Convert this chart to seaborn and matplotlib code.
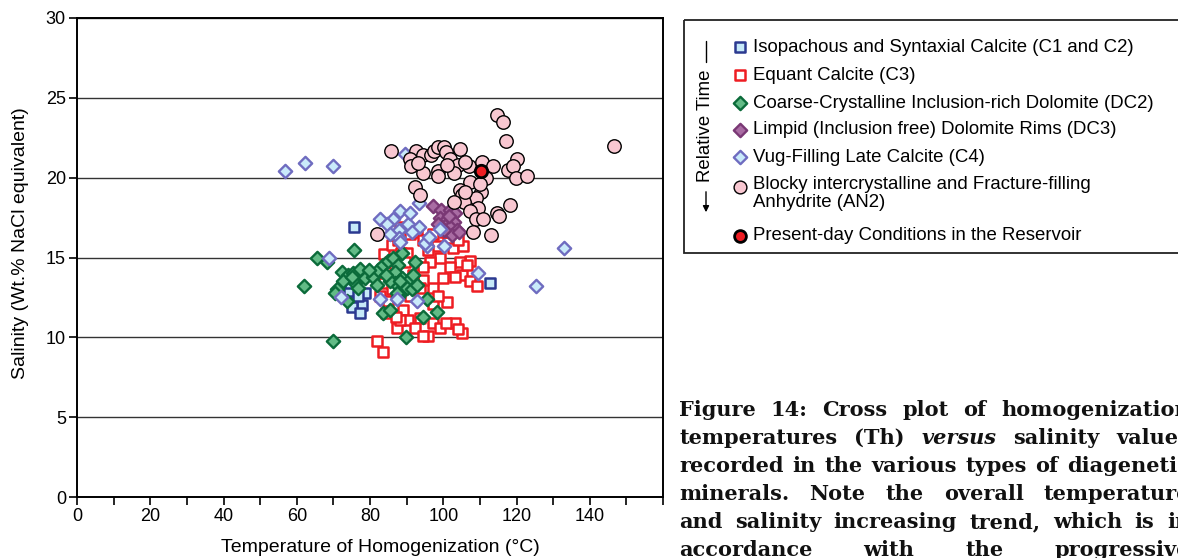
import matplotlib
matplotlib.use("Agg")
import matplotlib.pyplot as plt
import numpy as np
import pandas as pd
import seaborn as sns
from matplotlib.patches import Rectangle

# ---- Fluid-inclusion data: homogenization temperature (°C) and salinity (wt.% NaCl eq.) ----
c1c2_temp = [75.7, 112.8, 78.7, 76.1, 77.8, 75.0, 77.3, 74.3, 76.6, 74.6]
c1c2_sal = [16.9, 13.4, 12.8, 12.3, 12.0, 11.9, 11.5, 12.9, 12.6, 13.4]

c3_temp = [83.9, 85.5, 83.9, 82.8, 85.0, 84.4, 82.0, 83.6, 86.1, 88.5, 90.2, 88.3, 91.0, 92.9,
           94.5, 97.3, 98.4, 101.4, 102.7, 105.5, 107.4, 104.6, 101.9, 99.2, 96.4, 94.5, 105.2,
           107.4, 109.3, 103.3, 100.0, 97.3, 94.5, 93.7, 101.1, 97.3, 98.6, 89.1, 90.4, 93.7,
           97.3, 99.2, 103.3, 105.2, 95.9, 92.3, 87.4, 88.3, 87.2, 100.8, 104.1, 94.5, 86.1,
           91.0, 88.3, 86.9, 91.8, 89.6, 87.7, 95.9, 100.5, 104.1, 106.6]
c3_sal = [15.2, 14.7, 13.4, 12.6, 12.3, 11.5, 9.8, 9.1, 15.8, 15.3, 15.3, 16.9, 16.5, 16.6,
          16.1, 16.5, 15.7, 16.0, 15.6, 15.7, 14.8, 14.7, 14.4, 15.0, 14.7, 14.4, 13.9,
          13.5, 13.2, 13.8, 13.7, 13.1, 13.6, 13.1, 12.2, 12.1, 12.6, 11.7, 11.1, 11.2,
          10.9, 10.6, 10.9, 10.3, 10.1, 10.6, 10.6, 11.1, 11.3, 10.9, 10.5, 10.1, 13.0,
          12.6, 13.3, 14.2, 13.9, 14.7, 16.1, 15.5, 16.6, 16.1, 14.5]

dc2_temp = [65.6, 68.3, 75.7, 62.0, 69.9, 89.9, 94.5, 98.4, 71.0, 72.4, 74.0, 75.4, 77.3, 76.0,
            78.7, 80.9, 82.2, 83.6, 85.0, 86.3, 88.8, 87.7, 86.9, 88.8, 90.4, 86.9, 89.6, 87.7,
            83.6, 85.5, 76.8, 82.0, 92.3, 91.8, 90.2, 72.7, 70.5, 87.4, 85.5, 91.5, 95.6, 92.9,
            75.1, 88.3, 79.8, 84.4, 73.7]
dc2_sal = [15.0, 14.7, 15.5, 13.2, 9.8, 10.0, 11.3, 11.6, 13.0, 14.1, 13.9, 14.0, 14.3, 13.4,
           13.7, 13.8, 14.2, 14.5, 14.8, 15.0, 15.3, 14.5, 14.1, 13.7, 13.5, 13.4, 13.0, 12.5,
           11.5, 11.7, 13.1, 13.3, 14.7, 13.9, 13.1, 13.5, 12.8, 12.8, 13.5, 13.0, 12.4, 13.3,
           13.8, 13.5, 14.2, 13.9, 12.3]

dc3_temp = [97.3, 99.5, 101.9, 103.3, 99.2, 101.0, 102.8, 100.5, 101.9, 103.7, 102.4, 100.1,
            104.2, 98.5, 101.5]
dc3_sal = [18.2, 18.0, 18.0, 17.8, 17.5, 17.4, 17.2, 17.0, 16.9, 16.7, 16.4, 16.7, 16.6, 17.1,
           17.6]

c4_temp = [56.8, 62.3, 69.8, 89.6, 93.5, 88.3, 82.8, 86.4, 84.6, 87.8, 90.5, 93.3, 91.4, 87.8,
           99.2, 95.5, 100.1, 88.3, 95.1, 109.6, 87.3, 92.8, 82.6, 68.9, 72.2, 132.9, 125.2,
           91.0, 96.2, 85.5]
c4_sal = [20.4, 20.9, 20.7, 21.5, 18.4, 17.9, 17.4, 17.4, 17.1, 16.7, 17.1, 16.9, 16.6, 16.2,
          16.8, 15.7, 15.7, 16.0, 15.9, 14.0, 12.4, 12.3, 12.4, 15.0, 12.5, 15.6, 13.2, 17.8,
          16.3, 16.5]

an2_temp = [114.7, 116.3, 117.2, 85.7, 92.5, 90.8, 91.2, 94.5, 96.6, 97.5, 98.7, 100.3, 100.8,
            101.9, 104.6, 103.9, 94.5, 98.7, 98.7, 103.0, 106.9, 110.6, 113.7, 111.7, 117.6,
            120.1, 119.0, 119.8, 123.0, 107.4, 92.3, 104.5, 105.1, 110.3, 109.0, 105.8, 109.4,
            114.7, 118.3, 107.2, 109.0, 110.8, 113.0, 102.8, 93.7, 81.9, 108.1, 146.5, 115.1,
            106.0, 110.1, 93.2, 101.1, 106.0]
an2_sal = [23.9, 23.5, 22.3, 21.7, 21.7, 21.2, 20.7, 21.4, 21.4, 21.7, 21.9, 21.9, 21.6, 21.2,
           21.8, 20.8, 20.3, 20.4, 20.1, 20.3, 20.7, 21.0, 20.7, 20.0, 20.5, 21.2, 20.7, 20.0,
           20.1, 19.7, 19.4, 19.2, 18.9, 19.1, 18.7, 18.5, 18.1, 17.8, 18.3, 17.9, 17.4, 17.4,
           16.4, 18.5, 18.9, 16.5, 16.6, 22.0, 17.6, 19.1, 19.6, 20.9, 20.8, 21.0]

present_temp = [110.3]
present_sal = [20.4]

series_labels = [
    "Isopachous and Syntaxial Calcite (C1 and C2)",
    "Equant Calcite (C3)",
    "Coarse-Crystalline Inclusion-rich Dolomite (DC2)",
    "Limpid (Inclusion free) Dolomite Rims (DC3)",
    "Vug-Filling Late Calcite (C4)",
    "Blocky intercrystalline and Fracture-filling\nAnhydrite (AN2)",
    "Present-day Conditions in the Reservoir",
]

x_ticks = list(range(0, 161, 10))
x_tick_labels = ["0", "", "20", "", "40", "", "60", "", "80", "", "100", "", "120", "", "140", "", ""]
y_ticks = [0, 5, 10, 15, 20, 25, 30]
y_tick_labels = ["0", "5", "10", "15", "20", "25", "30"]

x_title = "Temperature of Homogenization (°C)"
y_title = "Salinity (Wt.% NaCl equivalent)"
time_label = "Relative Time"

caption_lines = [
    "Figure 14: Cross plot of homogenization",
    "temperatures (Th) *versus* salinity values",
    "recorded in the various types of diagenetic",
    "minerals. Note the overall temperature",
    "and salinity increasing trend, which is in",
    "accordance with the progressive",
]

# ---- Styling per mineral phase: marker, size, face, edge, edge width ----
marker_styles = [
    dict(marker="s", s=62, face="#c6e9f8", edge="#2b3990", lw=1.8),
    dict(marker="s", s=62, face="white", edge="#ee1d23", lw=1.8),
    dict(marker="D", s=46, face="#62bb86", edge="#0b6b3a", lw=1.7),
    dict(marker="D", s=46, face="#a96ca3", edge="#7a3875", lw=1.7),
    dict(marker="D", s=46, face="#c9eafa", edge="#6f6cc0", lw=1.7),
    dict(marker="o", s=94, face="#f8c7d1", edge="black", lw=1.0),
    dict(marker="o", s=80, face="#ee1d23", edge="black", lw=2.0),
]
series_data = [
    (c1c2_temp, c1c2_sal),
    (c3_temp, c3_sal),
    (dc2_temp, dc2_sal),
    (dc3_temp, dc3_sal),
    (c4_temp, c4_sal),
    (an2_temp, an2_sal),
    (present_temp, present_sal),
]

sns.set_theme(style="white")
plt.rcParams["font.family"] = ["Liberation Sans", "DejaVu Sans"]

W, H = 1178, 558
fig = plt.figure(figsize=(W / 100, H / 100), dpi=100)
fig.patch.set_facecolor("white")
ax = fig.add_axes([77 / W, 1 - 497 / H, (663 - 77) / W, (497 - 18) / H])

for z, ((xs, ys), st) in enumerate(zip(series_data, marker_styles)):
    df = pd.DataFrame({"temp": xs, "salinity": ys})
    sns.scatterplot(data=df, x="temp", y="salinity", ax=ax, marker=st["marker"], s=st["s"],
                    color=st["face"], edgecolor=st["edge"], linewidth=st["lw"],
                    zorder=3 + z, legend=False)

ax.set_xlim(0, 160)
ax.set_ylim(0, 30)
ax.set_xticks(x_ticks)
ax.set_xticklabels(x_tick_labels)
ax.set_yticks(y_ticks)
ax.set_yticklabels(y_tick_labels)
ax.yaxis.grid(True, color="#333333", linewidth=1.0)
ax.xaxis.grid(False)
ax.set_axisbelow(True)
for sp in ax.spines.values():
    sp.set_color("black")
    sp.set_linewidth(1.4)
ax.tick_params(axis="both", which="major", bottom=True, left=True, direction="out",
               length=6, width=1.2, color="black", labelsize=13, labelcolor="black", pad=2)
ax.set_xlabel(x_title, fontsize=14, color="black")
ax.set_ylabel(y_title, fontsize=14, color="black")
ax.xaxis.set_label_coords(0.517, -0.088)
ax.yaxis.set_label_coords(-0.082, 0.53)

# ---- Legend panel and caption, laid out in pixel coordinates ----
lax = fig.add_axes([0, 0, 1, 1])
lax.set_xlim(0, W)
lax.set_ylim(H, 0)
lax.axis("off")

lax.add_patch(Rectangle((684, 20), 520, 233, fill=False, edgecolor="#222222", linewidth=1.3))
row_y = [47, 75, 103, 130, 157, 187, 236]
for st, label, yy in zip(marker_styles, series_labels, row_y):
    lax.scatter([740], [yy], marker=st["marker"], s=st["s"] * (0.9 if st["marker"] == "o" else 1.0),
                facecolor=st["face"], edgecolor=st["edge"], linewidth=st["lw"], zorder=5)
    if "\n" in label:
        lax.text(753, yy - 11, label, fontsize=13.4, va="top", ha="left", color="black",
                 linespacing=1.05)
    else:
        lax.text(753, yy, label, fontsize=13.4, va="center", ha="left", color="black")

lax.text(706, 126, time_label, rotation=90, fontsize=13.4, ha="center", va="center", color="black")
lax.plot([706, 706], [41, 62], color="black", linewidth=1.0)
lax.annotate("", xy=(706, 215), xytext=(706, 189),
             arrowprops=dict(arrowstyle="-|>", color="black", lw=1.0, mutation_scale=9))

# Justified caption paragraph (bold serif, "versus" in italics)
renderer = fig.canvas.get_renderer()
x_left, x_right = 679, 1190
base0, lead = 416, 28.0
for i, line in enumerate(caption_lines):
    words = line.split()
    texts = []
    for w in words:
        italic = w.startswith("*")
        t = lax.text(0, base0 + i * lead, w.strip("*"), fontsize=15, fontweight="bold",
                     family=["DejaVu Serif"], fontstyle="italic" if italic else "normal",
                     ha="left", va="baseline", color="#111111")
        texts.append(t)
    widths = [t.get_window_extent(renderer).width for t in texts]
    gap = (x_right - x_left - sum(widths)) / max(len(words) - 1, 1)
    gap = max(gap, 5)
    xpos = x_left
    for t, wdt in zip(texts, widths):
        t.set_x(xpos)
        xpos += wdt + gap

fig.savefig("out.png", dpi=100, facecolor="white")
